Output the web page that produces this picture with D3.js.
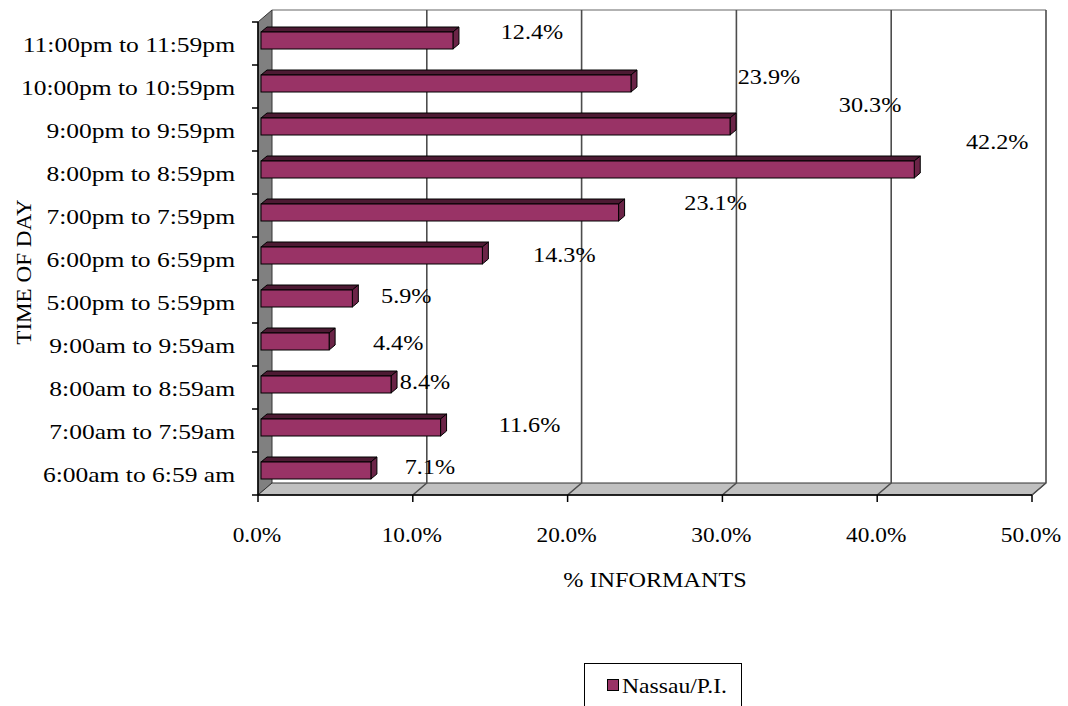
<!DOCTYPE html>
<html>
<head>
<meta charset="utf-8">
<script src="https://cdn.jsdelivr.net/npm/d3@7"></script>
<style>
  body { margin: 0; background: #fff; }
  text { font-family: "Liberation Serif", "Times New Roman", serif; fill: #000; }
</style>
</head>
<body>
<svg id="chart" width="1068" height="706"></svg>
<script>
// data (top row first)
var categories = ["11:00pm to 11:59pm", "10:00pm to 10:59pm", "9:00pm to 9:59pm", "8:00pm to 8:59pm",
  "7:00pm to 7:59pm", "6:00pm to 6:59pm", "5:00pm to 5:59pm", "9:00am to 9:59am",
  "8:00am to 8:59am", "7:00am to 7:59am", "6:00am to 6:59 am"];
var values = [12.4, 23.9, 30.3, 42.2, 23.1, 14.3, 5.9, 4.4, 8.4, 11.6, 7.1];
var xTicks = [0, 10, 20, 30, 40, 50];
var seriesName = "Nassau/P.I.";

// label nudges (the labels in the original sit a bit off the bar ends)
var labelDx = [79, 138, 140, 83, 97, 82, 54, 69, 34, 89, 59];
var labelDy = [-13, -11, -26, -32, -14, -5, -7, -3, -7, -7, -8];

var svg = d3.select("#chart");

var front = { left: 258, right: 1032, top: 22, bottom: 495 };
var depth = { dx: 14, dy: -12 };

var x = d3.scaleLinear().domain([0, 50]).range([front.left, front.right]);
var y = d3.scaleBand().domain(categories).range([front.top, front.bottom]);

// the original text is a little pulled out sideways
function stretch(k) {
  return function (sel) {
    sel.each(function () {
      var w = this.getComputedTextLength();
      d3.select(this).attr("textLength", w * k).attr("lengthAdjust", "spacingAndGlyphs");
    });
  };
}

// back wall
var bx = function (v) { return x(v) + depth.dx; };
var backTop = front.top + depth.dy, backBottom = front.bottom + depth.dy;

svg.append("rect")
  .attr("x", bx(0)).attr("y", backTop)
  .attr("width", bx(50) - bx(0)).attr("height", backBottom - backTop)
  .attr("fill", "#fff");
svg.append("line")
  .attr("x1", bx(0)).attr("x2", bx(50)).attr("y1", backTop).attr("y2", backTop)
  .attr("stroke", "#999").attr("stroke-width", 1.5);

// left wall
svg.append("polygon")
  .attr("points", [[x(0), front.top], [bx(0), backTop], [bx(0), backBottom], [x(0), front.bottom]].join(" "))
  .attr("fill", "#808080").attr("stroke", "#333").attr("stroke-width", 1);

// floor
svg.append("polygon")
  .attr("points", [[x(0), front.bottom], [bx(0), backBottom], [bx(50), backBottom], [x(50), front.bottom]].join(" "))
  .attr("fill", "#c0c0c0").attr("stroke", "#333").attr("stroke-width", 1);

// gridlines on the back wall, running down across the floor
xTicks.forEach(function (t) {
  if (t === 0) return;
  svg.append("polyline")
    .attr("points", [[bx(t), backTop], [bx(t), backBottom], [x(t), front.bottom]].join(" "))
    .attr("fill", "none").attr("stroke", "#4d4d4d").attr("stroke-width", 1.6);
});

// axes
svg.append("line")
  .attr("x1", x(0)).attr("x2", x(0)).attr("y1", front.top).attr("y2", front.bottom)
  .attr("stroke", "#000").attr("stroke-width", 1.5);
svg.append("line")
  .attr("x1", x(0)).attr("x2", x(50)).attr("y1", front.bottom).attr("y2", front.bottom)
  .attr("stroke", "#000").attr("stroke-width", 1.5);

// y ticks at band edges
var edges = categories.map(function (c) { return y(c); }).concat([front.bottom]);
svg.selectAll(".ytick").data(edges).enter().append("line")
  .attr("x1", x(0) - 6).attr("x2", x(0))
  .attr("y1", function (d) { return d; }).attr("y2", function (d) { return d; })
  .attr("stroke", "#000").attr("stroke-width", 1.5);

svg.selectAll(".xtick").data(xTicks).enter().append("line")
  .attr("x1", function (d) { return x(d); }).attr("x2", function (d) { return x(d); })
  .attr("y1", front.bottom).attr("y2", front.bottom + 7)
  .attr("stroke", "#000").attr("stroke-width", 1.5);

svg.selectAll(".xlab").data(xTicks).enter().append("text")
  .attr("x", function (d) { return x(d) - 1; })
  .attr("y", 542)
  .attr("text-anchor", "middle")
  .style("font-size", "22px")
  .text(function (d) { return d.toFixed(1) + "%"; })
  .call(stretch(1.06));

svg.selectAll(".ylab").data(categories).enter().append("text")
  .attr("x", 235)
  .attr("y", function (d) { return y(d) + y.bandwidth() / 2 + 8; })
  .attr("text-anchor", "end")
  .style("font-size", "22px")
  .text(function (d) { return d; })
  .call(stretch(1.16));

// bars: top face, end face, front face
var barOff = 3, barDx = 6, barDy = -5, barH = 17;
var bars = svg.append("g");
categories.forEach(function (c, i) {
  var x0 = x(0) + barOff, x1 = x(values[i]) + barOff;
  var yc = y(c) + y.bandwidth() / 2 - barOff;
  var y0 = yc - barH / 2, y1 = yc + barH / 2;
  bars.append("polygon")
    .attr("points", [[x0, y0], [x0 + barDx, y0 + barDy], [x1 + barDx, y0 + barDy], [x1, y0]].join(" "))
    .attr("fill", "#4d1a33").attr("stroke", "#000").attr("stroke-width", 1);
  bars.append("polygon")
    .attr("points", [[x1, y0], [x1 + barDx, y0 + barDy], [x1 + barDx, y1 + barDy], [x1, y1]].join(" "))
    .attr("fill", "#6b2447").attr("stroke", "#000").attr("stroke-width", 1);
  bars.append("rect")
    .attr("x", x0).attr("y", y0).attr("width", x1 - x0).attr("height", barH)
    .attr("fill", "#993366").attr("stroke", "#000").attr("stroke-width", 1);
});

// value labels
svg.selectAll(".vlab").data(values).enter().append("text")
  .attr("x", function (d, i) { return x(d) + barOff + labelDx[i]; })
  .attr("y", function (d, i) { return y(categories[i]) + y.bandwidth() / 2 + labelDy[i] + 8; })
  .attr("text-anchor", "middle")
  .style("font-size", "22px")
  .text(function (d) { return d.toFixed(1) + "%"; })
  .call(stretch(1.1));

// axis titles
svg.append("text")
  .attr("x", 655).attr("y", 587)
  .attr("text-anchor", "middle")
  .style("font-size", "22px")
  .text("% INFORMANTS")
  .call(stretch(1.1));

svg.append("text")
  .attr("transform", "translate(31,272) rotate(-90)")
  .attr("text-anchor", "middle")
  .style("font-size", "21px")
  .text("TIME OF DAY")
  .call(stretch(1.1));

// legend
var legend = svg.append("g");
legend.append("rect")
  .attr("x", 584.5).attr("y", 663.5).attr("width", 157).attr("height", 50)
  .attr("fill", "#fff").attr("stroke", "#000").attr("stroke-width", 1);
legend.append("rect")
  .attr("x", 607.5).attr("y", 679.5).attr("width", 11).attr("height", 11)
  .attr("fill", "#993366").attr("stroke", "#000").attr("stroke-width", 1);
legend.append("text")
  .attr("x", 622).attr("y", 693)
  .style("font-size", "21px")
  .attr("textLength", 105)
  .attr("lengthAdjust", "spacingAndGlyphs")
  .text(seriesName);
</script>
</body>
</html>
